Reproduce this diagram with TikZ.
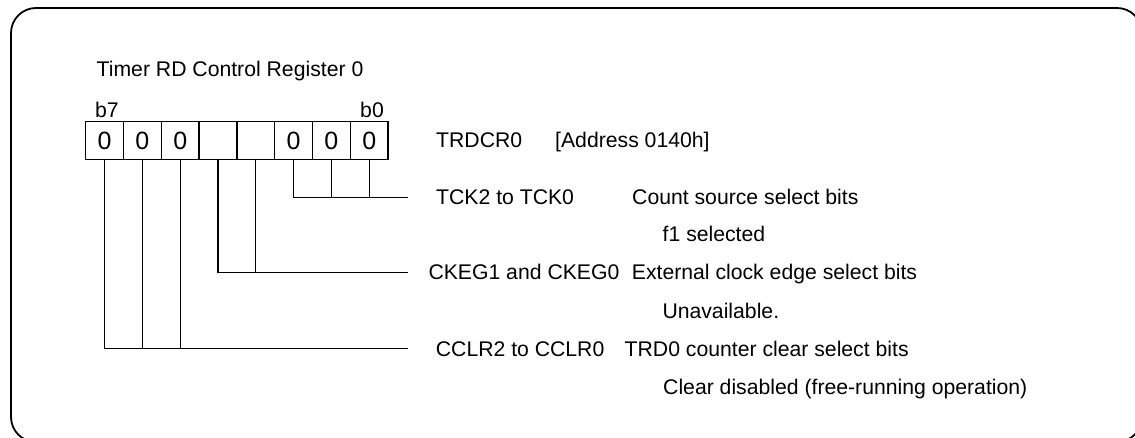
\documentclass[tikz,border=0pt]{standalone}
\usepackage{fontspec}
\setmainfont{Liberation Sans}
\usepackage{tikz}
\usetikzlibrary{calc}

\tikzset{
lbl/.style={anchor=base west, inner sep=0pt, font=\fontsize{21.2}{25}\selectfont},
bitcell/.style={draw, line width=1.3pt, minimum width=37.8pt, minimum height=37.6pt, inner sep=0pt, font=\fontsize{25}{30}\selectfont},
wire/.style={line width=1.3pt}
}

\begin{document}
\begin{tikzpicture}[x=1pt,y=-1pt]
\clip (0,0) rectangle (1135,438);
\draw[line width=1.8pt, rounded corners=25pt] (11,8) rectangle (1142,442);

\node[lbl] (title) at (96.5,77) {Timer RD Control Register 0};

% register bits, b7 left
\foreach \b/\v in {7/0,6/0,5/0,4/,3/,2/0,1/0,0/0}
  \node[bitcell] (c\b) at ({104.6+37.8*(7-\b)},140.5) {\v};
\node[lbl] (b7) at (95,118) {b7};
\node[lbl, anchor=base east] (b0) at (384,118) {b0};
\node[lbl] (reg) at (436,147.6) {TRDCR0};
\node[lbl] (addr) at (555,147.6) {[Address 0140h]};

% bit groups
\coordinate (tck) at (407.7,197.3);
\coordinate (ckeg) at (407.7,272.7);
\coordinate (cclr) at (407.7,348.3);
\draw[wire] (c2.south) |- (tck);
\draw[wire] (c1.south) -- (c1.south |- tck);
\draw[wire] (c0.south) -- (c0.south |- tck);
\draw[wire] (c4.south) |- (ckeg);
\draw[wire] (c3.south) -- (c3.south |- ckeg);
\draw[wire] (c7.south) |- (cclr);
\draw[wire] (c6.south) -- (c6.south |- cclr);
\draw[wire] (c5.south) -- (c5.south |- cclr);

\node[lbl] (tckname) at (436,204.3) {TCK2 to TCK0};
\node[lbl] (tckdesc) at (632,204.3) {Count source select bits};
\node[lbl] (tckval) at (662.5,241.6) {f1 selected};
\node[lbl] (ckegname) at (428.3,279.3) {CKEG1 and CKEG0};
\node[lbl] (ckegdesc) at (631.7,279.3) {External clock edge select bits};
\node[lbl] (ckegval) at (662.3,318.6) {Unavailable.};
\node[lbl] (cclrname) at (435.7,356.6) {CCLR2 to CCLR0};
\node[lbl] (cclrdesc) at (624.5,356.6) {TRD0 counter clear select bits};
\node[lbl] (cclrval) at (663,394.3) {Clear disabled (free-running operation)};
\end{tikzpicture}
\end{document}
